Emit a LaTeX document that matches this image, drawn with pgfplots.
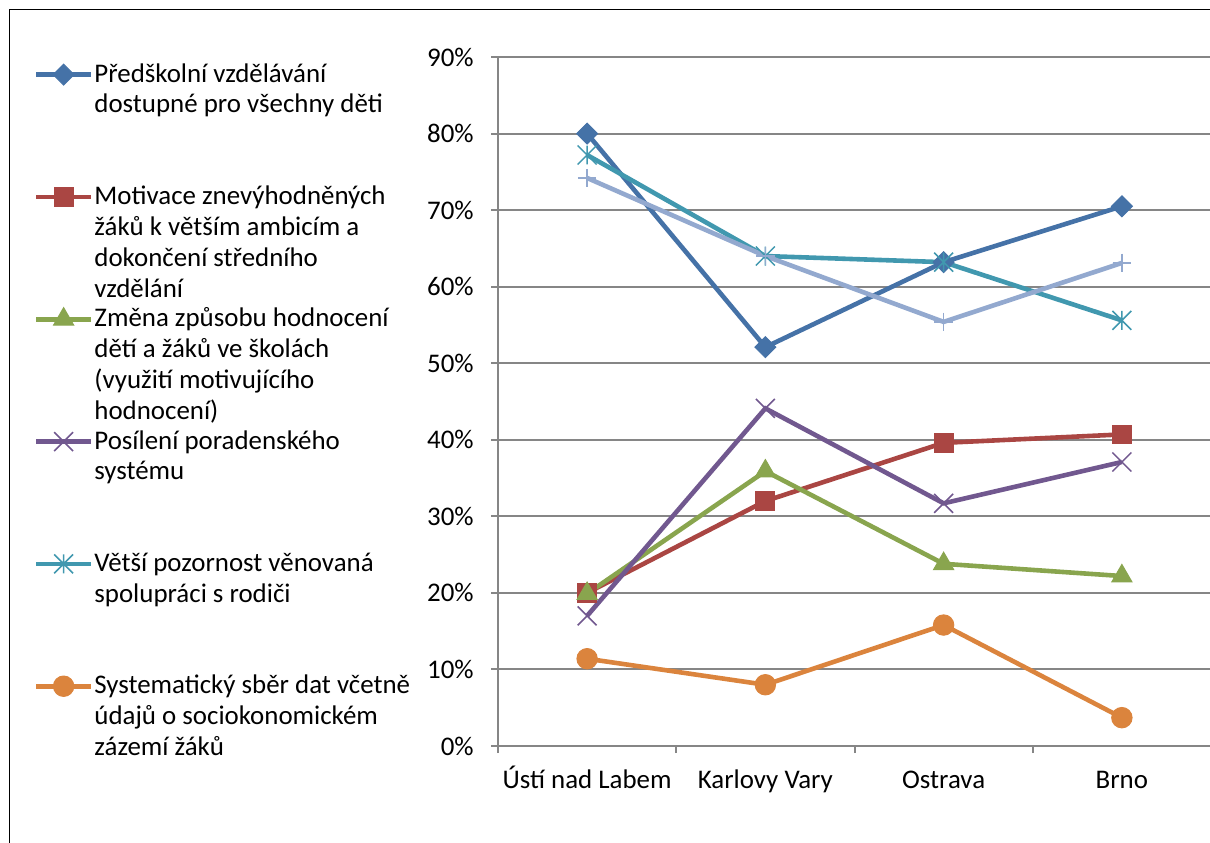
\documentclass[border=0pt]{standalone}
\usepackage{fontspec}
\setmainfont{Carlito}
\usepackage{pgfplots}
\pgfplotsset{compat=1.18}

\definecolor{cblue}{HTML}{4572A7}
\definecolor{cred}{HTML}{AA4643}
\definecolor{cgreen}{HTML}{89A54E}
\definecolor{cpurple}{HTML}{71588F}
\definecolor{cteal}{HTML}{4198AF}
\definecolor{corange}{HTML}{DB843D}
\definecolor{clight}{HTML}{93A9CF}
\definecolor{axgray}{HTML}{868686}

% Excel style star: x plus a vertical bar
\pgfdeclareplotmark{xstar}{%
  \pgfpathmoveto{\pgfqpoint{-.7071\pgfplotmarksize}{-.7071\pgfplotmarksize}}%
  \pgfpathlineto{\pgfqpoint{.7071\pgfplotmarksize}{.7071\pgfplotmarksize}}%
  \pgfpathmoveto{\pgfqpoint{-.7071\pgfplotmarksize}{.7071\pgfplotmarksize}}%
  \pgfpathlineto{\pgfqpoint{.7071\pgfplotmarksize}{-.7071\pgfplotmarksize}}%
  \pgfpathmoveto{\pgfqpoint{0pt}{-.7071\pgfplotmarksize}}%
  \pgfpathlineto{\pgfqpoint{0pt}{.7071\pgfplotmarksize}}%
  \pgfusepathqstroke}

\newcommand{\entry}[1]{\parbox[t]{200bp}{\strut #1}}

\begin{document}
\fontsize{13.5}{15.5}\selectfont
\begin{tikzpicture}
\useasboundingbox (0,0) rectangle (605bp,421.5bp);
\draw[black, line width=0.6bp] (4.75bp,0) -- (4.75bp,416.75bp) -- (605bp,416.75bp);
\begin{axis}[
  at={(249bp,48.5bp)}, anchor=south west,
  scale only axis, width=356.5bp, height=344.5bp,
  xmin=-0.5, xmax=3.5, ymin=0, ymax=90,
  axis lines=left,
  axis line style={draw=axgray, line width=1bp, -},
  tick align=outside,
  major tick length=3.5bp,
  tick style={draw=axgray, line width=1bp},
  ymajorgrids,
  grid style={draw=axgray, line width=1bp},
  ytick={0,10,...,90},
  yticklabels={0\%,10\%,20\%,30\%,40\%,50\%,60\%,70\%,80\%,90\%},
  yticklabel style={xshift=-4bp},
  xtick={-0.5,0.5,1.5,2.5,3.5},
  xticklabels={{},{},{},{},{}},
  extra x ticks={0,1,2,3},
  extra x tick labels={Ústí nad Labem,Karlovy Vary,Ostrava,Brno},
  extra x tick style={major tick length=0pt, grid=none,
    xticklabel style={anchor=base, yshift=-21bp}},
  legend cell align=left,
  legend style={draw=none, fill=none, at={(-0.651,0.995)}, anchor=north west,
    inner sep=0pt, outer sep=0pt, row sep=0pt, column sep=0.5bp,
    nodes={inner sep=0pt, text depth=50.35bp}},
  legend image code/.code={%
    \draw[mark repeat=2, mark phase=2, #1]
      plot coordinates {(0bp,23.5bp) (13.75bp,23.5bp) (27.5bp,23.5bp)};},
  every axis plot/.append style={line width=2.3bp},
]
\addplot[cblue, mark=square*, mark size=3.7bp,
  mark options={rotate=45, line width=0.5bp, fill=cblue}]
  coordinates {(0,80.0) (1,52.1) (2,63.2) (3,70.5)};
\addlegendentry{\entry{Předškolní vzdělávání\\dostupné pro všechny děti}}
\addplot[cred, mark=square*, mark size=4.7bp,
  mark options={line width=0.5bp, fill=cred}]
  coordinates {(0,20.0) (1,32.0) (2,39.6) (3,40.7)};
\addlegendentry{\entry{Motivace znevýhodněných\\žáků k větším ambicím a\\dokončení středního\\vzdělání}}
\addplot[cgreen, mark=triangle*, mark size=5.8bp,
  mark options={line width=0.5bp, fill=cgreen}]
  coordinates {(0,19.9) (1,35.9) (2,23.8) (3,22.2)};
\addlegendentry{\entry{Změna způsobu hodnocení\\dětí a žáků ve školách\\(využití motivujícího\\hodnocení)}}
\addplot[cpurple, mark=x, mark size=6.7bp,
  mark options={line width=0.75bp}]
  coordinates {(0,17.0) (1,44.1) (2,31.7) (3,37.1)};
\addlegendentry{\entry{Posílení poradenského\\systému}}
\addplot[cteal, mark=xstar, mark size=6.7bp,
  mark options={line width=0.75bp}]
  coordinates {(0,77.2) (1,64.0) (2,63.2) (3,55.6)};
\addlegendentry{\entry{Větší pozornost věnovaná\\spolupráci s rodiči}}
\addplot[corange, mark=*, mark size=5.1bp,
  mark options={line width=0.5bp, fill=corange}]
  coordinates {(0,11.4) (1,8.0) (2,15.8) (3,3.7)};
\addlegendentry{\entry{Systematický sběr dat včetně\\údajů o sociokonomickém\\zázemí žáků}}
\addplot[clight, mark=+, mark size=4.6bp,
  mark options={line width=0.75bp}, forget plot]
  coordinates {(0,74.2) (1,64.0) (2,55.4) (3,63.1)};
\end{axis}
\end{tikzpicture}
\end{document}
